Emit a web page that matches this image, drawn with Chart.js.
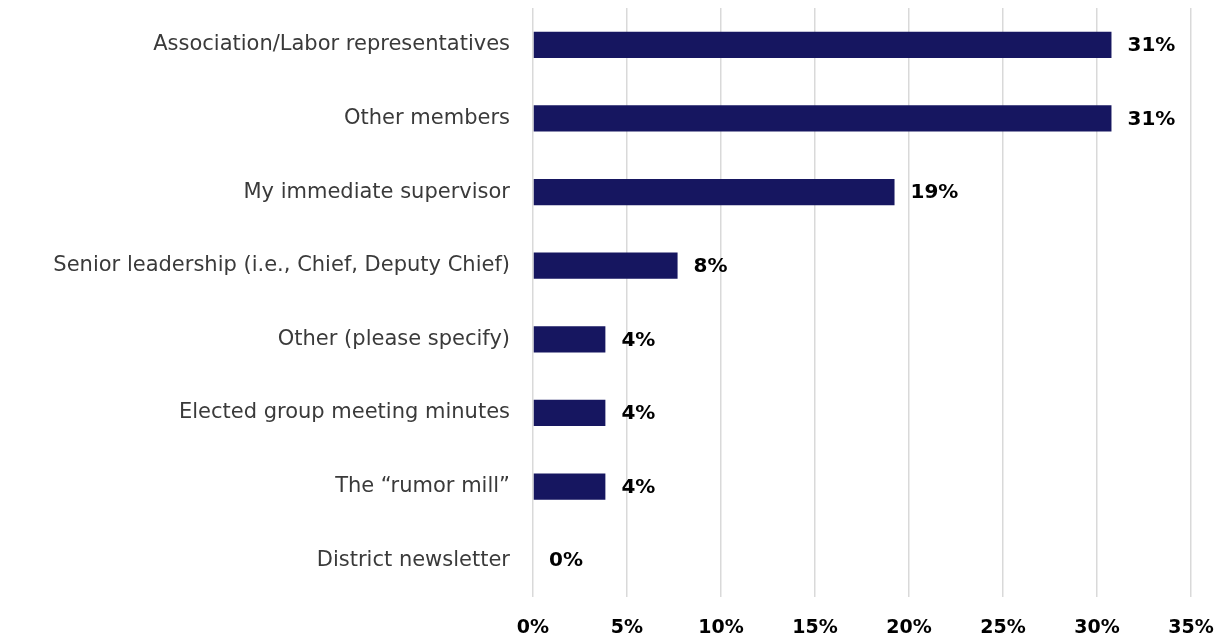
<!DOCTYPE html>
<html>
<head>
<meta charset="utf-8">
<script src="https://cdn.jsdelivr.net/npm/chart.js@4/dist/chart.umd.min.js"></script>
<style>
    html, body { margin: 0; padding: 0; background: #ffffff; }
    #wrap { width: 1220px; height: 640px; position: relative; }
</style>
</head>
<body>
<div id="wrap"><canvas id="sourcesChart"></canvas></div>
<script>
// 資料來源（百分比，n = 26）
const categories = [
    'Association/Labor representatives',
    'Other members',
    'My immediate supervisor',
    'Senior leadership (i.e., Chief, Deputy Chief)',
    'Other (please specify)',
    'Elected group meeting minutes',
    'The \u201crumor mill\u201d',
    'District newsletter'
];
const shares = [30.77, 30.77, 19.23, 7.69, 3.85, 3.85, 3.85, 0];
const valueLabels = ['31%', '31%', '19%', '8%', '4%', '4%', '4%', '0%'];
const tickValues = [0, 5, 10, 15, 20, 25, 30, 35];

const FONT = "'DejaVu Sans', sans-serif";

// 在長條末端畫數值標籤
const barValueLabels = {
    id: 'barValueLabels',
    afterDatasetsDraw(chart) {
        const ctx = chart.ctx;
        const meta = chart.getDatasetMeta(0);
        ctx.save();
        ctx.font = 'bold 20px ' + FONT;
        ctx.fillStyle = '#000000';
        ctx.textAlign = 'left';
        ctx.textBaseline = 'middle';
        meta.data.forEach((bar, i) => {
            ctx.fillText(valueLabels[i], bar.x + 16, bar.y + 1);
        });
        ctx.restore();
    }
};

function initChart() {
    const ctx = document.getElementById('sourcesChart').getContext('2d');
    new Chart(ctx, {
        type: 'bar',
        data: {
            labels: categories,
            datasets: [{
                data: shares,
                backgroundColor: '#161660',
                borderWidth: 0,
                categoryPercentage: 1,
                barPercentage: 0.355
            }]
        },
        options: {
            indexAxis: 'y',
            responsive: true,
            maintainAspectRatio: false,
            animation: false,
            layout: { padding: { top: 8, right: 0, bottom: 0, left: 0 } },
            plugins: {
                legend: { display: false },
                tooltip: { enabled: false }
            },
            scales: {
                x: {
                    min: 0,
                    max: 35,
                    afterBuildTicks(scale) {
                        scale.ticks = tickValues.map(v => ({ value: v }));
                    },
                    afterFit(scale) {
                        scale.height = 43;
                        scale.paddingLeft = 0;
                        scale.paddingRight = 29;
                    },
                    grid: {
                        color: '#d9d9d9',
                        lineWidth: 1.5,
                        drawTicks: false
                    },
                    border: { display: false },
                    ticks: {
                        padding: 20,
                        color: '#000000',
                        font: { family: FONT, size: 19, weight: 'bold' },
                        callback: v => v + '%'
                    }
                },
                y: {
                    afterFit(scale) {
                        scale.width = 533;
                        scale.paddingTop = 0;
                        scale.paddingBottom = 0;
                    },
                    grid: { display: false },
                    border: { display: false },
                    ticks: {
                        padding: 15,
                        color: '#3a3a3a',
                        font: { family: FONT, size: 21 }
                    }
                }
            }
        },
        plugins: [barValueLabels]
    });
}

document.addEventListener('DOMContentLoaded', () => {
    initChart();
});
</script>
</body>
</html>
